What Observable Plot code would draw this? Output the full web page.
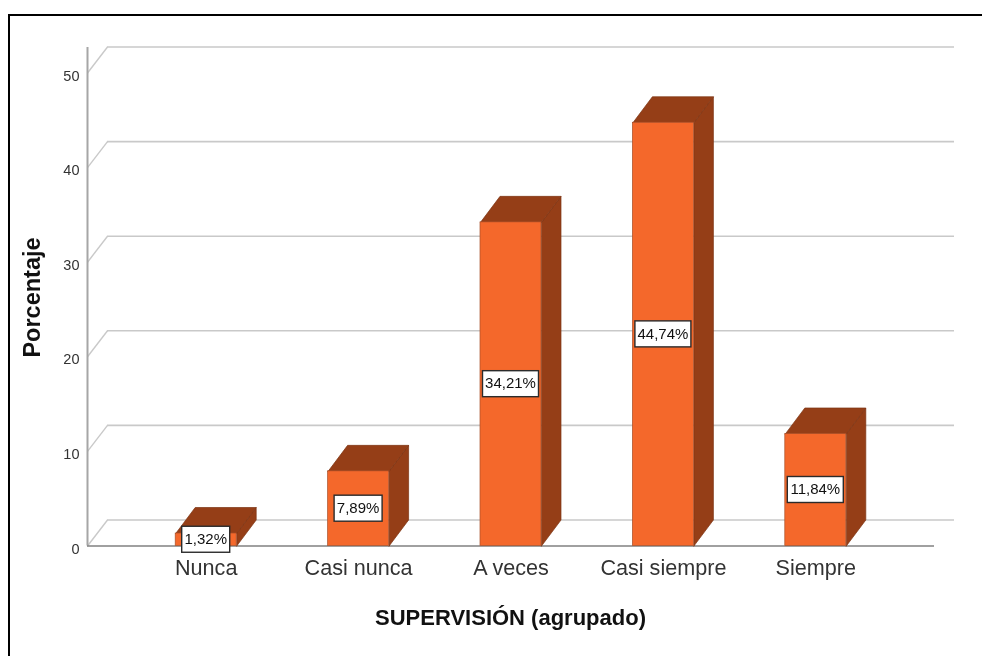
<!DOCTYPE html>
<html lang="es">
<head>
<meta charset="utf-8">
<script src="https://cdn.jsdelivr.net/npm/d3@7"></script>
<script src="https://cdn.jsdelivr.net/npm/@observablehq/plot@0.6"></script>
<style>
  html, body { margin: 0; padding: 0; background: #fff; }
  #wrap { position: relative; width: 982px; height: 656px; overflow: hidden; }
  #frame { position: absolute; left: 8px; top: 14px; right: -4px; bottom: -4px; border: 2px solid #000; }
  #chart { position: absolute; left: 0; top: 0; }
  #chart svg { font-family: "Liberation Sans", Arial, sans-serif; filter: blur(0.35px); }
</style>
</head>
<body>
<div id="wrap"><div id="frame"></div><div id="chart"></div></div>
<script>
const categories = ["Nunca", "Casi nunca", "A veces", "Casi siempre", "Siempre"];
const percentages = [1.32, 7.89, 34.21, 44.74, 11.84];
const valueLabels = ["1,32%", "7,89%", "34,21%", "44,74%", "11,84%"];
const yTicks = [0, 10, 20, 30, 40, 50];
const xTitle = "SUPERVISIÓN (agrupado)";
const yTitle = "Porcentaje";

// Layout of the picture: pixels per unit on each scale, used to size the pseudo-3D faces.
const pxPerCat = 152.4, pxPerPct = 9.46;
const W = 982, H = 656, left = 87, base = 545.5, cat0 = 205.7;
const xAt = (px) => (px - cat0) / pxPerCat;
const yAt = (px) => (base - px) / pxPerPct;
const halfBar = 30.5 / pxPerCat;
const depthX = 19.5 / pxPerCat, depthY = 26 / pxPerPct;
const labelH = 13 / pxPerPct;
const front = "#f4682b", dark = "#953e17", grid = "#c9c9c9", textCol = "#333333";

const bars = categories.map((c, i) => ({c, i, v: percentages[i], label: valueLabels[i]}));
const topFaces = bars.flatMap(b => [
  [b.i - halfBar, b.v], [b.i + halfBar, b.v],
  [b.i + halfBar + depthX, b.v + depthY], [b.i - halfBar + depthX, b.v + depthY],
  [b.i - halfBar, b.v]
].map(([x, y]) => ({x, y, z: b.i})));
const sideFaces = bars.flatMap(b => [
  [b.i + halfBar, 0], [b.i + halfBar + depthX, depthY],
  [b.i + halfBar + depthX, b.v + depthY], [b.i + halfBar, b.v], [b.i + halfBar, 0]
].map(([x, y]) => ({x, y, z: b.i})));

const plot = Plot.plot({
  width: W, height: H,
  marginLeft: left, marginRight: 0, marginTop: 0, marginBottom: H - base,
  x: {type: "linear", domain: [xAt(left), xAt(W)]},
  y: {type: "linear", domain: [0, yAt(0)]},
  style: {background: "transparent", fontFamily: "Liberation Sans, Arial, sans-serif"},
  marks: [
    // back wall grid + side wall diagonals
    Plot.ruleY(yTicks, {y: d => d + depthY, x1: xAt(107), x2: xAt(954), stroke: grid, strokeWidth: 1.6}),
    Plot.link(yTicks, {x1: xAt(left), x2: xAt(107), y1: d => d, y2: d => d + depthY, stroke: grid, strokeWidth: 1.4}),
    // axis lines
    Plot.ruleX([xAt(left)], {y1: 0, y2: yAt(47), stroke: "#a6a6a6", strokeWidth: 2}),
    Plot.ruleY([0], {x1: xAt(left), x2: xAt(934), stroke: "#808080", strokeWidth: 1.6}),
    // bars
    Plot.line(sideFaces, {x: "x", y: "y", z: "z", fill: dark, stroke: "#7d3413", strokeWidth: 0.7}),
    Plot.line(topFaces, {x: "x", y: "y", z: "z", fill: dark, stroke: "#7d3413", strokeWidth: 0.7}),
    Plot.rect(bars, {x1: d => d.i - halfBar, x2: d => d.i + halfBar, y1: 0, y2: "v", fill: front, stroke: "#a8502a", strokeWidth: 0.7}),
    // value labels
    Plot.rect(bars, {
      x1: d => d.i - (4 * d.label.length + 4) / pxPerCat,
      x2: d => d.i + (4 * d.label.length + 4) / pxPerCat,
      y1: d => d.v / 2 - labelH, y2: d => d.v / 2 + labelH,
      fill: "white", stroke: "#2b2b2b", strokeWidth: 1.4
    }),
    Plot.text(bars, {x: "i", y: d => d.v / 2, dx: -0.5, dy: -0.5, text: "label", fontSize: 15, fill: "#111"}),
    // axes
    Plot.axisY({ticks: yTicks, tickSize: 0, tickPadding: 8, dy: 3, fontSize: 14.5, color: textCol, label: null, tickFormat: d => String(d)}),
    Plot.axisX({ticks: categories.map((_, i) => i), tickFormat: i => categories[i], tickSize: 0, tickPadding: 14, fontSize: 21.6, color: textCol, label: null}),
    // titles
    Plot.text([xTitle], {x: [xAt(510)], y: [yAt(617)], text: d => d, fontSize: 22, fontWeight: "bold", fill: "#111"}),
    Plot.text([yTitle], {x: [xAt(32)], y: [yAt(297)], text: d => d, fontSize: 23.5, fontWeight: "bold", fill: "#111", rotate: -90})
  ]
});
document.getElementById("chart").appendChild(plot);
</script>
</body>
</html>
